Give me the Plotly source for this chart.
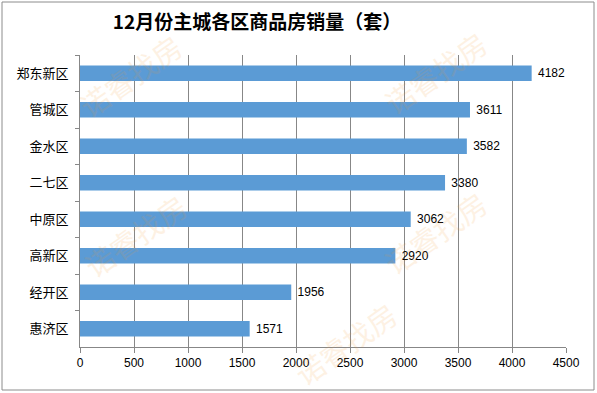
import plotly.graph_objects as go

districts = ["郑东新区", "管城区", "金水区", "二七区", "中原区", "高新区", "经开区", "惠济区"]
sales = [4182, 3611, 3582, 3380, 3062, 2920, 1956, 1571]
x_ticks = [0, 500, 1000, 1500, 2000, 2500, 3000, 3500, 4000, 4500]
title_text = "12月份主城各区商品房销量（套）"
watermark = "诺睿找房"

W, H = 597, 393
ml, mr, mt, mb = 80, 31, 55, 46
pw, ph = W - ml - mr, H - mt - mb

fig = go.Figure(go.Bar(
    x=sales, y=districts, orientation="h",
    marker=dict(color="#5B9BD5", line=dict(width=0)),
    width=0.42,
    text=[" " + str(v) for v in sales], textposition="outside",
    textfont=dict(family="Liberation Sans, Arial", size=12, color="#000000"),
    cliponaxis=False,
))

def px(xp):
    return (xp - ml) / pw
def py(yp):
    return (H - mb - yp) / ph

# watermark annotations (faint)
for (xw, yw) in [(130, 75), (435, 72), (135, 235), (435, 232), (345, 343)]:
    fig.add_annotation(x=px(xw), y=py(yw), xref="paper", yref="paper", text=watermark,
                       showarrow=False, textangle=-35, opacity=0.13,
                       xanchor="center", yanchor="middle",
                       font=dict(family="Noto Sans CJK SC", size=29, color="#F59A30"))

# outer border
fig.add_shape(type="rect", xref="paper", yref="paper",
              x0=px(2), x1=px(594), y0=py(390), y1=py(2),
              line=dict(color="#8C8C8C", width=1), fillcolor="rgba(0,0,0,0)", layer="below")

fig.update_layout(
    width=W, height=H,
    margin=dict(l=ml, r=mr, t=mt, b=mb, autoexpand=False),
    paper_bgcolor="white", plot_bgcolor="white",
    showlegend=False,
    title=dict(text="<b>" + title_text + "</b>", x=(257 - ml) / pw, xref="paper", xanchor="center",
               y=1 - 22 / H, yanchor="middle",
               font=dict(family="Noto Sans CJK SC", size=19, color="#000000")),
    xaxis=dict(range=[0, 4500], tickvals=x_ticks, ticktext=[str(t) for t in x_ticks],
               showgrid=True, gridcolor="#878787", gridwidth=1,
               showline=True, linecolor="#878787", linewidth=1,
               ticks="outside", ticklen=5, tickcolor="#878787",
               tickfont=dict(family="Liberation Sans, Arial", size=12, color="#000000"),
               zeroline=False, fixedrange=True, automargin=False),
    yaxis=dict(categoryorder="array", categoryarray=districts, autorange="reversed",
               showline=True, linecolor="#878787", linewidth=1,
               ticks="outside", ticklen=4, tickcolor="#878787", tickson="boundaries",
               showgrid=False, ticklabelstandoff=8, automargin=False, fixedrange=True,
               tickfont=dict(family="Noto Sans CJK SC", size=13, color="#000000")),
)

fig.write_html("out.html", config={"displayModeBar": False, "staticPlot": True},
               post_script="document.body.style.margin='0';document.body.style.overflow='hidden';")
